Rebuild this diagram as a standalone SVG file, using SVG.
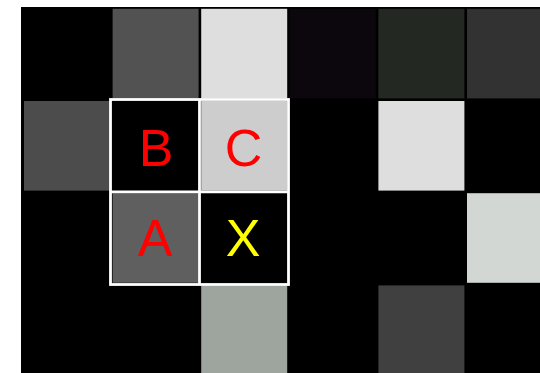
<svg xmlns="http://www.w3.org/2000/svg" width="540" height="373" viewBox="0 0 540 373">
<style>
.lbl{font-family:"Liberation Sans",Arial,sans-serif;font-size:52px;text-anchor:middle}
.frame{fill:none;stroke:#ffffff;stroke-width:2.8}
</style>
<rect x="0" y="0" width="540" height="373" fill="#ffffff"/>
<rect x="21" y="7" width="519" height="366" fill="#000000"/>
<g id="cells">
<!-- row 0 -->
<rect x="112.6" y="8.8" width="86" height="89.6" fill="#525252"/>
<rect x="201.2" y="8.8" width="86" height="89.6" fill="#dedede"/>
<rect x="289.8" y="8.8" width="86" height="89.6" fill="#0b070d"/>
<rect x="378.4" y="8.8" width="86" height="89.6" fill="#232822"/>
<rect x="467" y="8.8" width="86" height="89.6" fill="#323232"/>
<!-- row 1 -->
<rect x="24" y="101" width="86" height="89.6" fill="#4c4c4c"/>
<rect x="201.2" y="101" width="86" height="89.6" fill="#cdcdcd"/>
<rect x="378.4" y="101" width="86" height="89.6" fill="#dedede"/>
<!-- row 2 -->
<rect x="112.6" y="193.2" width="86" height="89.6" fill="#5f5f5f"/>
<rect x="467" y="193.2" width="86" height="89.6" fill="#d3d7d3"/>
<!-- row 3 -->
<rect x="201.2" y="285.4" width="86" height="89.6" fill="#9ea49e"/>
<rect x="378.4" y="285.4" width="86" height="89.6" fill="#404040"/>
</g>
<g id="frame">
<rect class="frame" x="110.5" y="99.5" width="178" height="185"/>
<line class="frame" x1="199.5" y1="99.5" x2="199.5" y2="284.5"/>
<line class="frame" x1="110.5" y1="191.8" x2="288.5" y2="191.8"/>
</g>
<g id="node-B"><text class="lbl" x="156" y="166" fill="#ff0000">B</text></g>
<g id="node-C"><text class="lbl" x="243.5" y="166" fill="#ff0000">C</text></g>
<g id="node-A"><text class="lbl" x="155" y="256" fill="#ff0000">A</text></g>
<g id="node-X"><text class="lbl" x="243" y="256" fill="#ffff00">X</text></g>
</svg>
